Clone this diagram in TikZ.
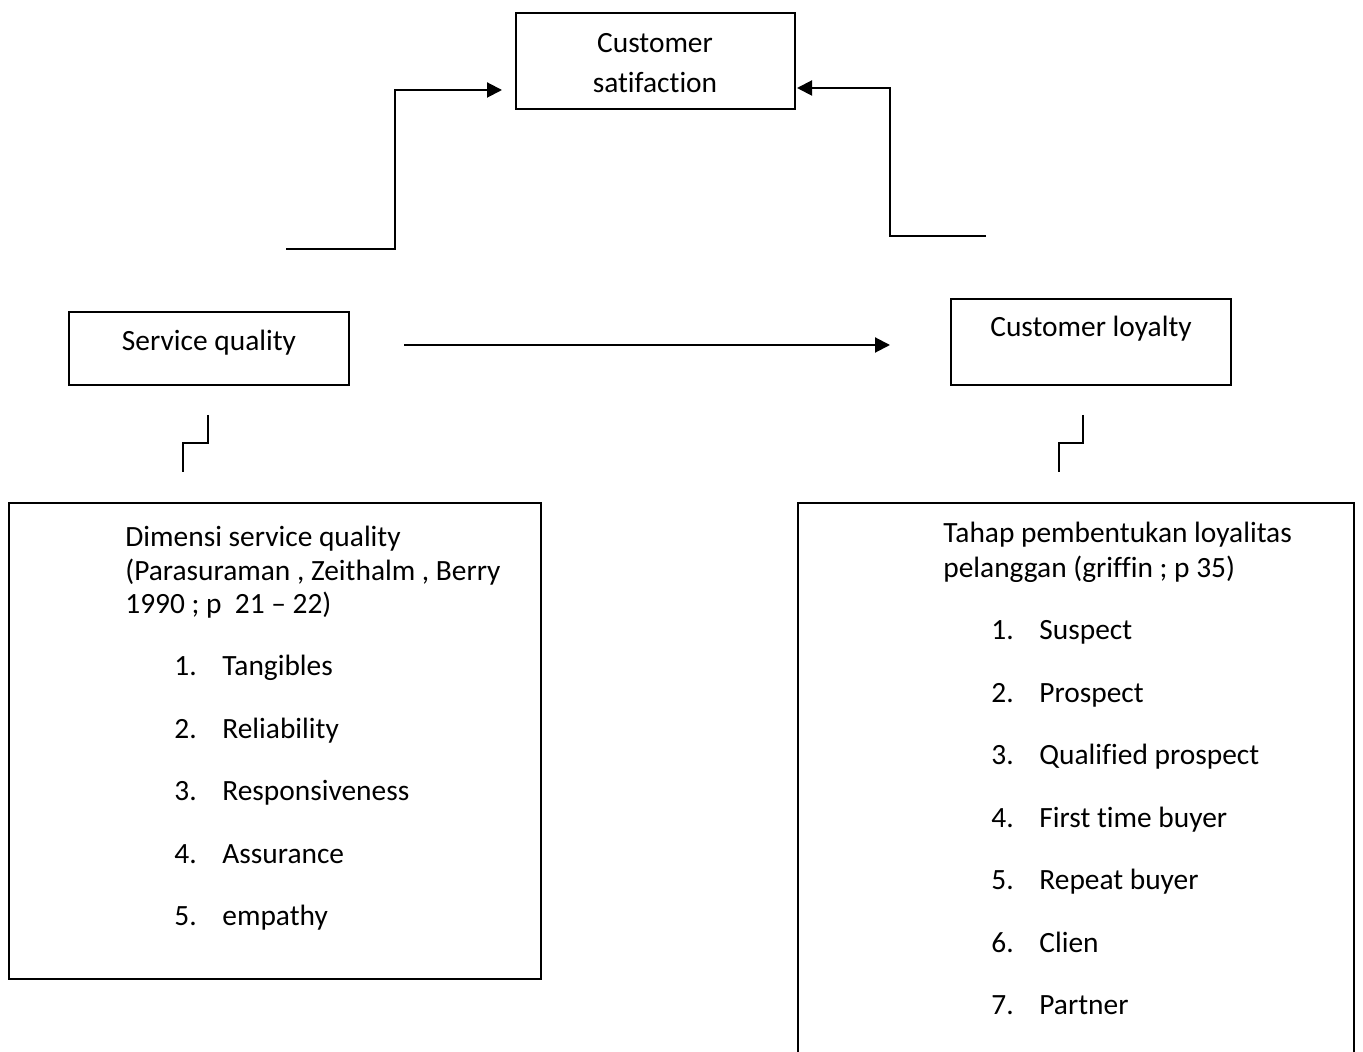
\documentclass[tikz,border=0pt]{standalone}
\usepackage{fontspec}
\setmainfont{Carlito}[Ligatures=NoCommon]
\usepackage{tikz}
\usetikzlibrary{arrows.meta, positioning, calc}

\begin{document}
\begin{tikzpicture}[
    x=0.5pt, y=-0.5pt,
    every node/.style={font=\fontsize{14.7pt}{17pt}\selectfont},
    box/.style={rectangle, draw, line width=1pt, inner sep=0pt},
    txt/.style={inner sep=0pt, anchor=base},
    ltxt/.style={inner sep=0pt, anchor=base west},
    item/.style={inner sep=0pt, anchor=base west},
    conn/.style={line width=1pt},
    arrow/.style={-{Triangle[length=7.5pt, width=7.5pt]}, line width=1pt}
]
\useasboundingbox (0,0) rectangle (1363,1052);

% Top: satisfaction
\node[box, minimum width=139.5pt, minimum height=48pt] (sat) at (655.5,61) {};
\node[txt] (sattext1) at (655,53) {Customer};
\node[txt] (sattext2) at (655,93) {satifaction};

% Middle row
\node[box, minimum width=140pt, minimum height=36.5pt] (servq) at (209,348.5) {};
\node[txt] (servqtext) at (209,351) {Service quality};
\node[box, minimum width=140pt, minimum height=43pt] (loyal) at (1091,342) {};
\node[txt] (loyaltext) at (1091,337) {Customer loyalty};

% Free ends of the connectors
\coordinate (sqtail) at (286,249);
\coordinate (cltail) at (986,236);
\coordinate (sqout) at (404,345);
\coordinate (clin) at (890,345);

% Arrows to satisfaction
\draw[arrow] (sqtail) -- ++(109,0) |- ($(sat.south west)+(-13,-20)$);
\draw[arrow] (cltail) -- ++(-96,0) |- ($(sat.south east)+(1,-22)$);

% Quality to loyalty
\draw[arrow] (sqout) -- (clin);

% Small steps under the boxes
\coordinate (zsqtop) at (208,415);
\coordinate (zsqbot) at (183,472);
\coordinate (zcltop) at (1083,415);
\coordinate (zclbot) at (1059,472);
\draw[conn] (zsqtop) -- ++(0,28) -| (zsqbot);
\draw[conn] (zcltop) -- ++(0,28) -| (zclbot);

% Dimension box
\node[box, minimum width=266pt, minimum height=238pt] (dims) at (275,741) {};
\node[ltxt] (dimshead1) at (125,546) {Dimensi service quality};
\node[ltxt] (dimshead2) at (125,580) {(Parasuraman , Zeithalm , Berry};
\node[ltxt] (dimshead3) at (125,613) {1990 ; p\ \ 21 -- 22)};
\node[item] (dim1) at (174,675) {\makebox[24pt][l]{1.}Tangibles};
\node[item] (dim2) at (174,738) {\makebox[24pt][l]{2.}Reliability};
\node[item] (dim3) at (174,800) {\makebox[24pt][l]{3.}Responsiveness};
\node[item] (dim4) at (174,863) {\makebox[24pt][l]{4.}Assurance};
\node[item] (dim5) at (174,925) {\makebox[24pt][l]{5.}empathy};

% Stage box (runs past the page bottom)
\node[box, minimum width=278pt, minimum height=300pt] (stages) at (1076,803) {};
\node[ltxt] (stagehead1) at (943,543) {Tahap pembentukan loyalitas};
\node[ltxt] (stagehead2) at (943,577) {pelanggan (griffin ; p 35)};
\node[item] (stage1) at (991,639) {\makebox[24pt][l]{1.}Suspect};
\node[item] (stage2) at (991,702) {\makebox[24pt][l]{2.}Prospect};
\node[item] (stage3) at (991,764) {\makebox[24pt][l]{3.}Qualified prospect};
\node[item] (stage4) at (991,827) {\makebox[24pt][l]{4.}First time buyer};
\node[item] (stage5) at (991,889) {\makebox[24pt][l]{5.}Repeat buyer};
\node[item] (stage6) at (991,952) {\makebox[24pt][l]{6.}Clien};
\node[item] (stage7) at (991,1014) {\makebox[24pt][l]{7.}Partner};

\end{tikzpicture}
\end{document}
